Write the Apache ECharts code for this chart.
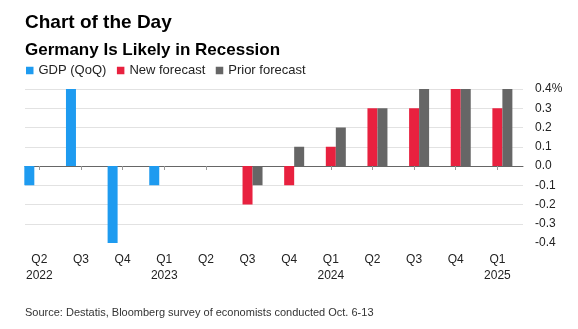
<!DOCTYPE html>
<html>
<head>
<meta charset="utf-8">
<script src="https://cdn.jsdelivr.net/npm/echarts@6/dist/echarts.min.js"></script>
<style>
html,body{margin:0;padding:0;background:#fff;}
#c{width:578px;height:329px;}
</style>
</head>
<body>
<div id="c"></div>
<script>
const categories = ['Q2\n2022','Q3','Q4','Q1\n2023','Q2','Q3','Q4','Q1\n2024','Q2','Q3','Q4','Q1\n2025'];
const gdp = [-0.1, 0.4, -0.4, -0.1, 0.0, null, null, null, null, null, null, null];
const newForecast = [null, null, null, null, null, -0.2, -0.1, 0.1, 0.3, 0.3, 0.4, 0.3];
const priorForecast = [null, null, null, null, null, -0.1, 0.1, 0.2, 0.3, 0.4, 0.4, 0.4];
const yTicks = [-0.4, -0.3, -0.2, -0.1, 0.0, 0.1, 0.2, 0.3, 0.4];

const FONT = '"Liberation Sans", Arial, Helvetica, sans-serif';
const chart = echarts.init(document.getElementById('c'), null, {renderer:'canvas'});
const TOP = 89, HEIGHT = 154;
chart.setOption({
  animation: false,
  textStyle: {fontFamily: FONT},
  title: [
    {text: 'Chart of the Day', left: 25, top: 13, padding: 0, textStyle: {fontSize: 19, fontWeight: 'bold', color: '#000', fontFamily: FONT}},
    {text: 'Germany Is Likely in Recession', left: 25, top: 42, padding: 0, textStyle: {fontSize: 17, fontWeight: 'bold', color: '#000', fontFamily: FONT}},
    {text: 'Source: Destatis, Bloomberg survey of economists conducted Oct. 6-13', left: 25, top: 307, padding: 0, textStyle: {fontSize: 11, fontWeight: 'normal', color: '#333', fontFamily: FONT}}
  ],
  legend: {
    left: 26, top: 64, padding: 0, itemWidth: 7.5, itemHeight: 7.5, itemGap: 10.5, icon: 'rect',
    textStyle: {fontSize: 13, color: '#222', fontFamily: FONT},
    data: ['GDP (QoQ)', 'New forecast', 'Prior forecast']
  },
  grid: [
    {left: 18.5, width: 499.7, top: TOP, height: HEIGHT},
    {left: 25, width: 498, top: TOP, height: HEIGHT}
  ],
  xAxis: [
    {
      type: 'category', gridIndex: 0, data: categories,
      axisLine: {show: false},
      axisTick: {show: true, alignWithLabel: true, length: 4, lineStyle: {color: '#999'}},
      axisLabel: {fontSize: 12, color: '#222', margin: 9, lineHeight: 16, fontFamily: FONT},
      splitLine: {show: false}
    },
    {
      type: 'value', gridIndex: 1, min: 0, max: 1,
      axisLine: {show: true, onZero: true, lineStyle: {color: '#666', width: 1}},
      axisTick: {show: false}, axisLabel: {show: false}, splitLine: {show: false}
    }
  ],
  yAxis: [
    {type: 'value', gridIndex: 0, min: -0.4, max: 0.4, interval: 0.1, show: false, splitLine: {show: false}},
    {
      type: 'value', gridIndex: 1, position: 'right', min: -0.4, max: 0.4, interval: 0.1,
      axisLine: {show: false}, axisTick: {show: false},
      axisLabel: {
        margin: 12, fontSize: 12, color: '#222', fontFamily: FONT,
        formatter: function (v) {
          const r = Math.round(v * 10) / 10;
          const t = yTicks.find(x => Math.abs(x - r) < 1e-9);
          const s = (t === undefined ? r : t).toFixed(1);
          return Math.abs(r - 0.4) < 1e-9 ? s + '%' : s;
        }
      },
      splitLine: {show: true, showMinLine: false, lineStyle: {color: '#e2e2e2', width: 1}}
    }
  ],
  series: [
    {name: 'GDP (QoQ)', type: 'bar', xAxisIndex: 0, yAxisIndex: 0, data: gdp, barWidth: 10, barGap: '0%', itemStyle: {color: '#1e9bf0'}, z: 3},
    {name: 'New forecast', type: 'bar', xAxisIndex: 0, yAxisIndex: 0, data: newForecast, barWidth: 10, barGap: '0%', itemStyle: {color: '#e8213f'}, z: 3},
    {name: 'Prior forecast', type: 'bar', xAxisIndex: 0, yAxisIndex: 0, data: priorForecast, barWidth: 10, barGap: '0%', itemStyle: {color: '#666666'}, z: 3}
  ]
});
</script>
</body>
</html>
